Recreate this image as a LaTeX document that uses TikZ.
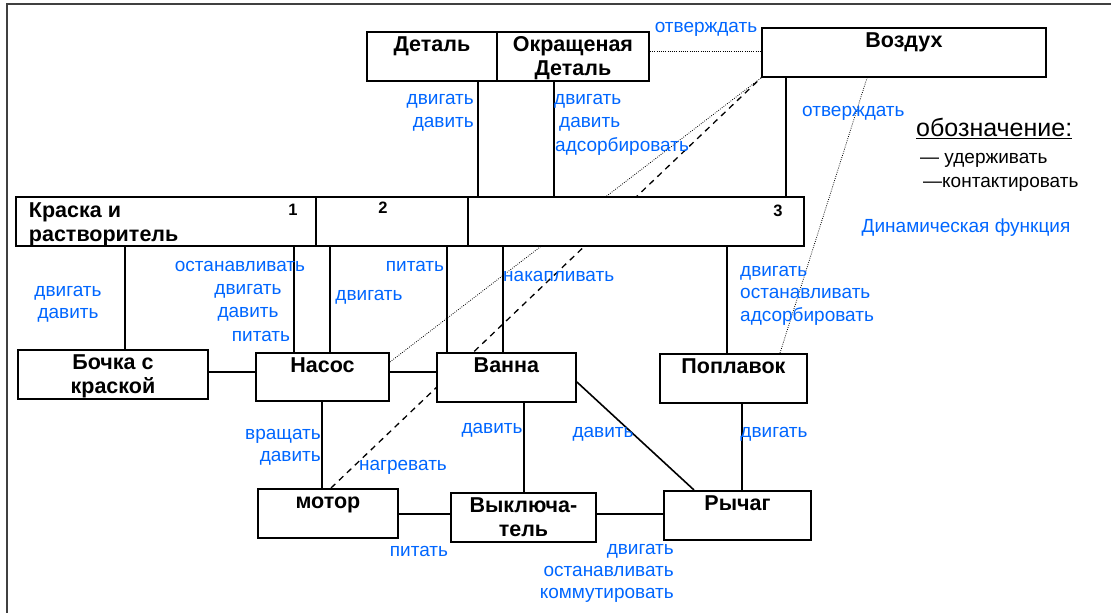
\documentclass[tikz,border=0pt]{standalone}
\usepackage{fontspec}
\setmainfont{Liberation Sans}
\definecolor{lbl}{RGB}{0,102,255}
\pgfdeclarelayer{bg}
\pgfsetlayers{bg,main}
\newcommand\bt[3]{\begin{minipage}[c][#2pt][t]{#1pt}\centering\rule{0pt}{20pt}#3\end{minipage}}
\begin{document}
\begin{tikzpicture}[x=1pt,y=-1pt,
  box/.style={draw, line width=1.9pt, fill=white, inner sep=0pt, anchor=north west, font=\bfseries\fontsize{21.5}{24}\selectfont},
  con/.style={line width=1.6pt},
  dot/.style={line width=0.8pt, dash pattern=on 0.8pt off 1.4pt},
  dsh/.style={line width=1.3pt, dash pattern=on 6pt off 5pt},
  lab/.style={text=lbl, font=\fontsize{19}{22.5}\selectfont, inner sep=0pt},
  leg/.style={text=black, font=\fontsize{19}{22.5}\selectfont, inner sep=0pt, anchor=base west},
  num/.style={font=\bfseries\fontsize{16.5}{19}\selectfont, inner sep=0pt, anchor=base},
]
\useasboundingbox (0,0) rectangle (1111,613);
\draw[line width=1.8pt, black!75] (7,613) -- (7,4) -- (1111,4);

% boxes
\node[box] (detal) at (366,31) {\bt{130}{49}{Деталь}};
\node[box] (okr) at (496,31) {\bt{152}{49}{Окращеная\\Деталь}};
\node[box] (vozduh) at (761,27) {\bt{284}{49}{Воздух}};
\node[box] (kraska) at (15,196) {\begin{minipage}[c][49pt][t]{300pt}\raggedright\leftskip=13pt\rule{0pt}{21pt}Краска и\\растворитель\end{minipage}};
\node[box] (seg2) at (315,196) {\bt{152}{49}{}};
\node[box] (seg3) at (467,196) {\bt{336}{49}{}};
\node[box] (bochka) at (17,349) {\bt{190}{49}{Бочка с\\краской}};
\node[box] (nasos) at (255,352) {\bt{133}{48}{Насос}};
\node[box] (vanna) at (436,352) {\bt{139}{49}{Ванна}};
\node[box] (poplavok) at (659,353) {\bt{147}{49}{Поплавок}};
\node[box] (motor) at (257,488) {\bt{140}{49}{мотор}};
\node[box] (vykl) at (450,492) {\bt{145}{49}{Выключа-\\тель}};
\node[box] (rychag) at (663,490) {\bt{147}{49}{Рычаг}};

\node[num] (n1) at (293,215) {1};
\node[num] (n2) at (383,213) {2};
\node[num] (n3) at (778,216.5) {3};

% helper coordinates
\foreach \x in {125,294,322,330,331,447,478,503,524,554,694,727,742,780,786,867}
  \coordinate (a\x) at (\x,0);
\foreach \y in {51,362,372,382,514}
  \coordinate (b\y) at (0,\y);

\begin{pgfonlayer}{bg}
\draw[con] (detal.south -| a478) -- (seg3.north -| a478);
\draw[con] (okr.south -| a554) -- (seg3.north -| a554);
\draw[con] (vozduh.south -| a786) -- (seg3.north -| a786);
\draw[con] (kraska.south -| a125) -- (bochka.north -| a125);
\draw[con] (kraska.south -| a294) -- (nasos.north -| a294);
\draw[con] (seg2.south -| a330) -- (nasos.north -| a330);
\draw[con] (seg2.south -| a447) -- (vanna.north -| a447);
\draw[con] (seg3.south -| a503) -- (vanna.north -| a503);
\draw[con] (seg3.south -| a727) -- (poplavok.north -| a727);
\draw[con] (bochka.east |- b372) -- (nasos.west |- b372);
\draw[con] (nasos.east |- b372) -- (vanna.west |- b372);
\draw[con] (nasos.south -| a322) -- (motor.north -| a322);
\draw[con] (vanna.south -| a524) -- (vykl.north -| a524);
\draw[con] (poplavok.south -| a742) -- (rychag.north -| a742);
\draw[con] (motor.east |- b514) -- (vykl.west |- b514);
\draw[con] (vykl.east |- b514) -- (rychag.west |- b514);
\draw[con] (vanna.east |- b382) -- (rychag.north -| a694);
\draw[dsh] (motor.north -| a331) -- (vozduh.south west);
\draw[dot] (nasos.east |- b362) -- (vozduh.south west);
\draw[dot] (poplavok.north -| a780) -- (vozduh.south -| a867);
\draw[dot] (okr.east |- b51) -- (vozduh.west |- b51);
\end{pgfonlayer}

% blue labels
\node[lab, anchor=base] (t1) at (706,32.5) {отверждать};
\node[lab, anchor=base east] (t2) at (474,104.5) {двигать};
\node[lab, anchor=base east] (t3) at (474,127.5) {давить};
\node[lab, anchor=base west] (t4) at (554,104.5) {двигать};
\node[lab, anchor=base west] (t5) at (559,127.5) {давить};
\node[lab, anchor=base west] (t6) at (555,151.5) {адсорбировать};
\node[lab, anchor=base west] (t7) at (802,116.5) {отверждать};
\node[lab, anchor=base] (t8) at (68,296.5) {двигать};
\node[lab, anchor=base] (t9) at (68,318.5) {давить};
\node[lab, anchor=base] (t10) at (240,271.5) {останавливать};
\node[lab, anchor=base] (t11) at (248,294.5) {двигать};
\node[lab, anchor=base] (t12) at (248,317.5) {давить};
\node[lab, anchor=base] (t13) at (261,341.5) {питать};
\node[lab, anchor=base] (t14) at (369,300.5) {двигать};
\node[lab, anchor=base] (t15) at (415,271.5) {питать};
\node[lab, anchor=base west] (t16) at (503,281.5) {накапливать};
\node[lab, anchor=base west] (t17) at (740,276.5) {двигать};
\node[lab, anchor=base west] (t18) at (740,298.5) {останавливать};
\node[lab, anchor=base west] (t19) at (740,321.5) {адсорбировать};
\node[lab, anchor=base] (t20) at (966,232.5) {Динамическая функция};
\node[lab, anchor=base east] (t21) at (321,439.5) {вращать};
\node[lab, anchor=base east] (t22) at (321,461.5) {давить};
\node[lab, anchor=base] (t23) at (403,470.5) {нагревать};
\node[lab, anchor=base] (t24) at (492,433.5) {давить};
\node[lab, anchor=base] (t25) at (603,437.5) {давить};
\node[lab, anchor=base] (t26) at (419,556.5) {питать};
\node[lab, anchor=base east] (t27) at (674,554.5) {двигать};
\node[lab, anchor=base east] (t28) at (674,576.5) {останавливать};
\node[lab, anchor=base east] (t29) at (674,598.5) {коммутировать};
\node[lab, anchor=base] (t30) at (774,437.5) {двигать};

% legend
\node[leg, font=\fontsize{25}{28}\selectfont] (lg) at (916,136.5) {\underline{обозначение:}};
\node[leg] (lg1) at (920,163.5) {— удерживать};
\node[leg] (lg2) at (923,187.5) {—контактировать};
\end{tikzpicture}
\end{document}
